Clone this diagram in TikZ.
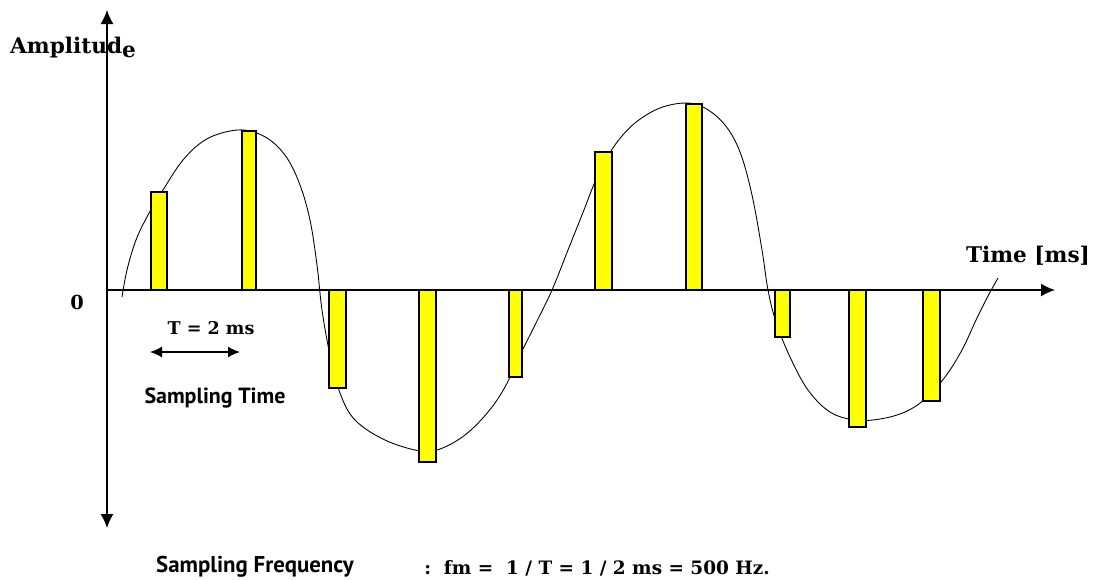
\documentclass[tikz,border=0pt]{standalone}
\usepackage{fontspec}
\usepackage{tikz}
\usepackage{xcolor}
\usetikzlibrary{arrows.meta,positioning}
\newfontfamily\plotfont{DejaVu Serif}
\newfontfamily\notefont{PT Sans}
\definecolor{sampleyellow}{RGB}{255,255,0}

\begin{document}
\begin{tikzpicture}[
  x=0.2mm, y=-0.2mm,
  axis/.style={line width=0.8pt, -{Latex[length=2.8mm, width=2.6mm]}},
  span/.style={line width=0.8pt, {Latex[length=2.4mm, width=2.2mm]}-{Latex[length=2.4mm, width=2.2mm]}},
  curve/.style={line width=0.5pt},
  bar/.style={draw, fill=sampleyellow, line width=0.6pt},
  edge/.style={line width=1.5pt},
  lbl/.style={inner sep=0pt, font=\plotfont\bfseries\fontsize{12.3pt}{14pt}\selectfont},
  small/.style={inner sep=0pt, font=\plotfont\bfseries\fontsize{10pt}{12pt}\selectfont},
  note/.style={inner sep=0pt, font=\notefont\bfseries\fontsize{12.5pt}{14pt}\selectfont}
]
\useasboundingbox (0,0) rectangle (1094,579);
\coordinate (O) at (107,290);
\coordinate (ytop) at (107,10);
\coordinate (ybot) at (107,528);
\coordinate (xend) at (1055,290);
\draw[axis] (O) -- (ytop);
\draw[axis] (O) -- (ybot);
\draw[axis] (O) -- (xend);

\node[lbl] (amp) at (73,48) {Amplitud\raisebox{-0.3ex}{e}};
\node[lbl] (time) at (1028,256) {Time [ms]};
\node[small, font=\plotfont\bfseries\fontsize{11pt}{13pt}\selectfont] (zero) at (77,302) {0};
\node[small] (period) at (211,328) {T = 2 ms};
\coordinate (tl) at (150,352);
\coordinate (tr) at (240,352);
\draw[span] (tl) -- (tr);
\node[note] (stime) at (215,398) {Sampling Time};
\node[note, font=\notefont\bfseries\fontsize{13pt}{15pt}\selectfont] (sfreq) at (255,567) {Sampling Frequency};
\node[small, font=\plotfont\bfseries\fontsize{10.5pt}{12pt}\selectfont] (formula) at (597,568) {:~~fm =~~1 / T = 1 / 2 ms = 500 Hz.};

\draw[curve] plot[smooth, tension=0.6] coordinates {
  (122,297) (127,270) (136,240) (148,215) (163,190) (183,160) (205,140)
  (230,131) (250,131) (270,140) (287,158) (300,185) (310,220) (317,265)
  (322,310) (330,355) (340,393) (355,420) (385,440) (420,451) (440,449)
  (465,435) (488,412) (505,387) (520,355) (535,325) (552,290) (568,250)
  (582,215) (598,175) (615,145) (635,123) (660,108) (686,103) (705,108)
  (725,125) (740,152) (752,195) (762,250) (768,290) (776,322) (790,357)
  (808,390) (830,412) (855,420) (880,419) (905,412) (925,399) (945,377)
  (962,350) (976,320) (988,296) (998,278)};

\filldraw[bar] (151,290) rectangle (167,192); \draw[edge] (167,290) -- (167,192);
\filldraw[bar] (242,290) rectangle (256,131); \draw[edge] (256,290) -- (256,131);
\filldraw[bar] (329,290) rectangle (346,388); \draw[edge] (346,290) -- (346,388);
\filldraw[bar] (419,290) rectangle (436,462); \draw[edge] (436,290) -- (436,462);
\filldraw[bar] (509,290) rectangle (522,377); \draw[edge] (522,290) -- (522,377);
\filldraw[bar] (595,290) rectangle (612,152); \draw[edge] (612,290) -- (612,152);
\filldraw[bar] (686,290) rectangle (702,104); \draw[edge] (702,290) -- (702,104);
\filldraw[bar] (775,290) rectangle (790,337); \draw[edge] (790,290) -- (790,337);
\filldraw[bar] (849,290) rectangle (866,427); \draw[edge] (866,290) -- (866,427);
\filldraw[bar] (923,290) rectangle (940,401); \draw[edge] (940,290) -- (940,401);
\end{tikzpicture}
\end{document}
